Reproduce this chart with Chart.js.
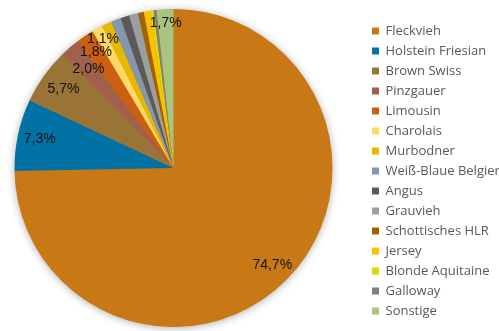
<!DOCTYPE html>
<html>
<head>
<meta charset="utf-8">
<script src="https://cdn.jsdelivr.net/npm/chart.js@4/dist/chart.umd.min.js"></script>
<style>
html,body{margin:0;padding:0;background:#fff;}
#wrap{width:499px;height:331px;position:relative;}
</style>
</head>
<body>
<div id="wrap"><canvas id="c" width="499" height="331"></canvas></div>
<script>
const categories = ["Fleckvieh","Holstein Friesian","Brown Swiss","Pinzgauer","Limousin","Charolais","Murbodner","Weiß-Blaue Belgier","Angus","Grauvieh","Schottisches HLR","Jersey","Blonde Aquitaine","Galloway","Sonstige"];
const shares = [74.7, 7.3, 5.7, 2.0, 1.8, 1.1, 1.0, 1.0, 0.9, 0.9, 0.6, 0.6, 0.4, 0.3, 1.7];
const sliceColors = ["#C87916","#0072A3","#9A7436","#A0604C","#CC6010","#FFD966","#E8B800","#8497B0","#5A5A5A","#9A9FA3","#9E6400","#FFC000","#DADA00","#808080","#A9C47F"];
const labelMin = 1.1;

const labelRadius = {0:0.87,1:0.86,2:0.85,3:0.82,4:0.875,5:0.925,14:0.91};

const layoutPlugin = {
  id: 'layoutFix',
  afterLayout(chart) {
    chart.chartArea = {left:12, top:9, right:335, bottom:327, width:323, height:318};
    const lg = chart.legend;
    if (lg) {
      const pad = lg.options.labels.padding;
      const w = lg.width;
      lg.left = 372 - pad;
      lg.right = lg.left + w;
      const h = lg.height;
      lg.top = lg.top + 3;
      lg.bottom = lg.top + h;
    }
  }
};

const shadowPlugin = {
  id: 'pieShadow',
  beforeDatasetsDraw(chart) {
    const arc = chart.getDatasetMeta(0).data[0];
    if (!arc) return;
    const {x, y, outerRadius} = arc.getProps(['x','y','outerRadius'], true);
    const ctx = chart.ctx;
    ctx.save();
    ctx.shadowColor = 'rgba(0,0,0,0.35)';
    ctx.shadowBlur = 9;
    ctx.shadowOffsetX = 0;
    ctx.shadowOffsetY = 1;
    ctx.fillStyle = '#C87916';
    ctx.beginPath();
    ctx.arc(x, y, outerRadius - 0.5, 0, Math.PI * 2);
    ctx.fill();
    ctx.restore();
  }
};

const labelPlugin = {
  id: 'pctLabels',
  afterDatasetsDraw(chart) {
    const ctx = chart.ctx;
    const meta = chart.getDatasetMeta(0);
    const vals = chart.data.datasets[0].data;
    ctx.save();
    ctx.font = '14px "Liberation Sans", Arial, sans-serif';
    ctx.fillStyle = '#111';
    ctx.textAlign = 'center';
    ctx.textBaseline = 'middle';
    meta.data.forEach((arc, i) => {
      const v = vals[i];
      if (v < labelMin) return;
      const p = arc.getProps(['x','y','startAngle','endAngle','outerRadius'], true);
      const mid = (p.startAngle + p.endAngle) / 2;
      const f = labelRadius[i] !== undefined ? labelRadius[i] : 0.88;
      const r = p.outerRadius * f;
      ctx.fillText(v.toFixed(1).replace('.', ',') + '%', p.x + Math.cos(mid) * r, p.y + Math.sin(mid) * r);
    });
    ctx.restore();
  }
};

new Chart(document.getElementById('c'), {
  type: 'pie',
  data: {
    labels: categories,
    datasets: [{
      data: shares,
      backgroundColor: sliceColors,
      borderWidth: 0
    }]
  },
  options: {
    responsive: false,
    animation: false,
    devicePixelRatio: 1,
    layout: {padding: {top: 9, bottom: 4, left: 12, right: 0}},
    plugins: {
      legend: {
        position: 'right',
        align: 'center',
        labels: {
          boxWidth: 7,
          boxHeight: 7,
          padding: 7,
          color: '#595959',
          font: {family: '"Open Sans", sans-serif', size: 13}
        }
      },
      tooltip: {enabled: false}
    }
  },
  plugins: [layoutPlugin, shadowPlugin, labelPlugin]
});
</script>
</body>
</html>
